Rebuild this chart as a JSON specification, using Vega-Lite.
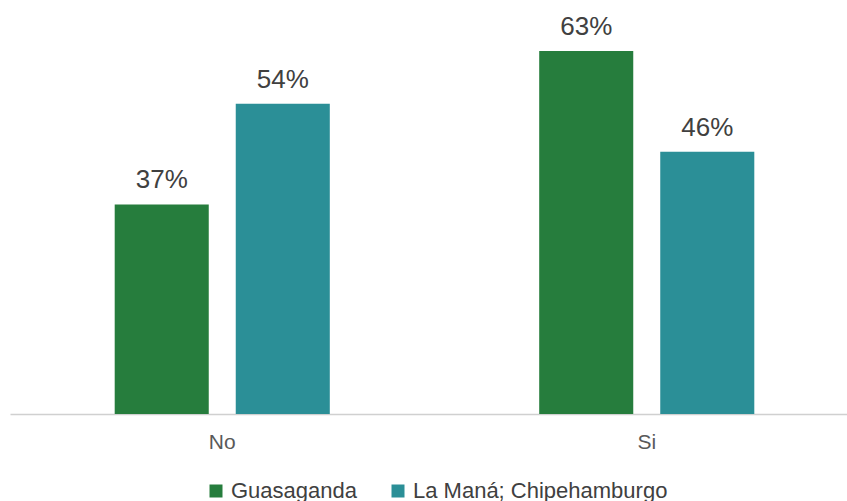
{
  "$schema": "https://vega.github.io/schema/vega-lite/v6.json",
  "autosize": "none",
  "width": 849,
  "height": 414,
  "padding": {"left": 10, "top": 0, "right": 0, "bottom": 87},
  "background": "white",
  "config": {
    "view": {"stroke": null},
    "font": "Liberation Sans"
  },
  "data": {
    "values": [
      {"cat": "No", "group": "Guasaganda", "value": 36.6, "label": "37%"},
      {"cat": "No", "group": "La Maná; Chipehamburgo", "value": 54.2, "label": "54%"},
      {"cat": "Si", "group": "Guasaganda", "value": 63.4, "label": "63%"},
      {"cat": "Si", "group": "La Maná; Chipehamburgo", "value": 45.8, "label": "46%"}
    ]
  },
  "encoding": {
    "x": {
      "field": "cat", "type": "nominal",
      "scale": {"paddingInner": 0, "paddingOuter": 0},
      "axis": {"title": null, "labelAngle": 0, "ticks": false, "labelPadding": 17, "labelFontSize": 21, "labelColor": "#595959", "domainColor": "#d0d0d0", "domainWidth": 1.5, "grid": false}
    },
    "xOffset": {"field": "group", "type": "nominal", "scale": {"paddingInner": 0.223, "paddingOuter": 0.865}},
    "y": {
      "field": "value", "type": "quantitative",
      "scale": {"domain": [0, 72.3], "nice": false},
      "axis": null
    }
  },
  "layer": [
    {
      "mark": {"type": "bar"},
      "encoding": {
        "color": {
          "field": "group", "type": "nominal",
          "scale": {"domain": ["Guasaganda", "La Maná; Chipehamburgo"], "range": ["#267d3d", "#2b8f97"]},
          "legend": {
            "title": null, "orient": "none", "direction": "horizontal",
            "legendX": 195, "legendY": 480,
            "symbolType": "square", "symbolSize": 169, "symbolStrokeWidth": 0,
            "labelFontSize": 22, "labelColor": "#404040", "labelOffset": 4, "labelLimit": 400,
            "columnPadding": 30
          }
        }
      }
    },
    {
      "mark": {"type": "text", "baseline": "alphabetic", "dy": -16, "fontSize": 26, "color": "#404040"},
      "encoding": {
        "text": {"field": "label"}
      }
    }
  ]
}
